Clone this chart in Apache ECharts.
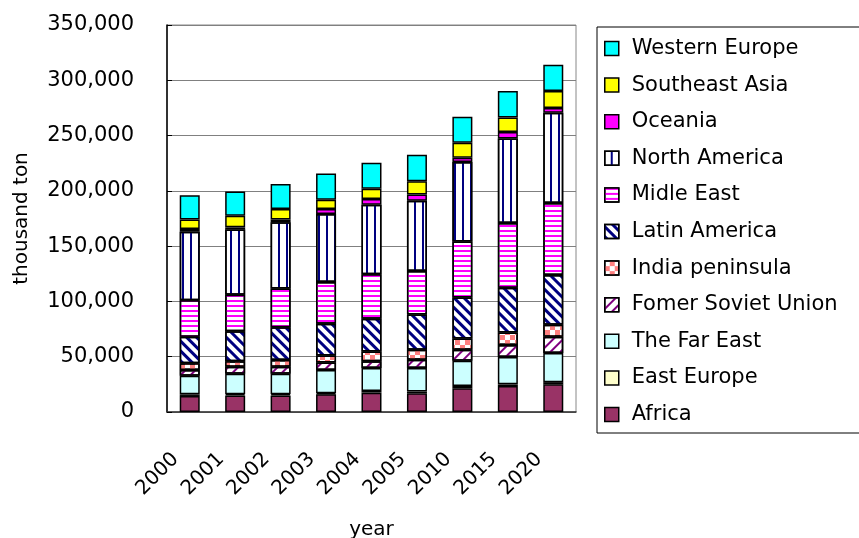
<!DOCTYPE html>
<html>
<head>
<meta charset="utf-8">
<script src="https://cdn.jsdelivr.net/npm/echarts@6/dist/echarts.min.js"></script>
<style>
  html, body { margin: 0; padding: 0; background: #ffffff; }
  #chart { width: 859px; height: 538px; }
</style>
</head>
<body>
<div id="chart"></div>
<script>
// Demand by region, thousand ton
const years = ['2000', '2001', '2002', '2003', '2004', '2005', '2010', '2015', '2020'];

const africa        = [14500, 15000, 15000, 16000, 17500, 17000, 21500, 23500, 25000];
const eastEurope    = [1500, 1000, 1000, 1000, 1500, 1500, 2000, 1500, 2000];
const farEast       = [16700, 18500, 18500, 21000, 20700, 21200, 22900, 24700, 26400];
const formerSoviet  = [5300, 6500, 6500, 6800, 6300, 7600, 10000, 10900, 14600];
const indiaPen      = [6000, 5000, 6000, 6200, 8800, 9100, 10000, 11400, 11000];
const latinAmerica  = [24000, 27000, 29600, 28700, 29500, 31800, 37200, 40400, 45000];
const middleEast    = [33000, 33000, 35000, 37800, 40200, 39300, 50700, 58500, 65000];
const northAmerica  = [62000, 59000, 60000, 61500, 63000, 63500, 71700, 76400, 81600];
const oceania       = [2500, 2000, 2500, 4600, 5200, 5600, 4000, 6000, 4400];
const southeastAsia = [8500, 10500, 9600, 8400, 9100, 12200, 13600, 13100, 15300];
const westernEurope = [22000, 22000, 22400, 23700, 23700, 23900, 23400, 23900, 23700];

const yTicks = [0, 50000, 100000, 150000, 200000, 250000, 300000, 350000];

const FONT = 'DejaVu Sans';

// stacking order, bottom to top
const regions = [
  { name: 'Africa', data: africa, color: '#993366' },
  { name: 'East Europe', data: eastEurope, color: '#FFFFCC' },
  { name: 'The Far East', data: farEast, color: '#CCFFFF' },
  { name: 'Fomer Soviet Union', data: formerSoviet, color: '#ffffff',
    decal: { symbol: 'rect', symbolSize: 1, color: '#800080', dashArrayX: [1, 0], dashArrayY: [2, 5], rotation: -Math.PI / 4 } },
  { name: 'India peninsula', data: indiaPen, color: '#ffffff',
    decal: { symbol: 'rect', symbolSize: 1, color: '#FF8080', dashArrayX: [[5, 5], [0, 5, 5, 0]], dashArrayY: [5, 0], rotation: 0 } },
  { name: 'Latin America', data: latinAmerica, color: '#ffffff',
    decal: { symbol: 'rect', symbolSize: 1, color: '#000080', dashArrayX: [1, 0], dashArrayY: [3, 4], rotation: Math.PI / 4 } },
  { name: 'Midle East', data: middleEast, color: '#ffffff',
    decal: { symbol: 'rect', symbolSize: 1, color: '#FF00FF', dashArrayX: [1, 0], dashArrayY: [2, 3], rotation: 0 } },
  { name: 'North America', data: northAmerica, color: '#ffffff',
    decal: { symbol: 'rect', symbolSize: 1, color: '#000080', dashArrayX: [1, 0], dashArrayY: [2, 6], rotation: Math.PI / 2 } },
  { name: 'Oceania', data: oceania, color: '#FF00FF' },
  { name: 'Southeast Asia', data: southeastAsia, color: '#FFFF00' },
  { name: 'Western Europe', data: westernEurope, color: '#00FFFF' }
];

const series = regions.map(r => ({
  name: r.name,
  type: 'bar',
  stack: 'total',
  data: r.data,
  barWidth: '44%',
  itemStyle: Object.assign(
    { color: r.color, borderColor: '#000000', borderWidth: 1.5 },
    r.decal ? { decal: r.decal } : {}
  ),
  emphasis: { disabled: true }
}));

const chart = echarts.init(document.getElementById('chart'));
chart.setOption({
  animation: false,
  backgroundColor: '#ffffff',
  aria: { enabled: false, decal: { show: false } },
  grid: {
    left: 167, top: 25, right: 283, bottom: 126,
    outerBoundsMode: 'none',
    containLabel: false,
    show: true, borderColor: '#888888', borderWidth: 1, backgroundColor: 'transparent'
  },
  legend: {
    orient: 'vertical',
    left: 597, top: 27,
    padding: [11, 60, 8, 7],
    itemWidth: 14, itemHeight: 14, itemGap: 15.6,
    borderColor: '#000000', borderWidth: 1,
    icon: 'rect',
    data: regions.map(r => r.name).reverse(),
    textStyle: { fontFamily: FONT, fontSize: 21, color: '#000000', lineHeight: 20, height: 20, padding: [0, 0, 0, 8] },
    itemStyle: { borderColor: '#000000', borderWidth: 1.5 }
  },
  xAxis: {
    type: 'category',
    data: years,
    name: 'year',
    nameLocation: 'middle',
    nameGap: 108,
    nameTextStyle: { fontFamily: FONT, fontSize: 20, color: '#000000' },
    axisLine: { lineStyle: { color: '#333333', width: 1.5 } },
    axisTick: { inside: true, length: 7, lineStyle: { color: '#777777' } },
    axisLabel: {
      rotate: 45, margin: 30, padding: [0, 20, 0, 0],
      fontFamily: FONT, fontSize: 20, color: '#000000'
    },
    splitLine: { show: false }
  },
  yAxis: {
    type: 'value',
    min: yTicks[0], max: yTicks[yTicks.length - 1], interval: 50000,
    name: 'thousand ton',
    nameLocation: 'middle',
    nameGap: 135,
    nameRotate: 90,
    nameTextStyle: { fontFamily: FONT, fontSize: 20, color: '#000000' },
    axisLine: { show: true, lineStyle: { color: '#000000', width: 1.5 } },
    axisTick: { show: true, inside: true, length: 5, lineStyle: { color: '#000000' } },
    axisLabel: {
      margin: 33, fontFamily: FONT, fontSize: 21, color: '#000000',
      formatter: v => v.toLocaleString('en-US')
    },
    splitLine: { lineStyle: { color: '#808080', width: 1 } }
  },
  series: series
});
</script>
</body>
</html>
